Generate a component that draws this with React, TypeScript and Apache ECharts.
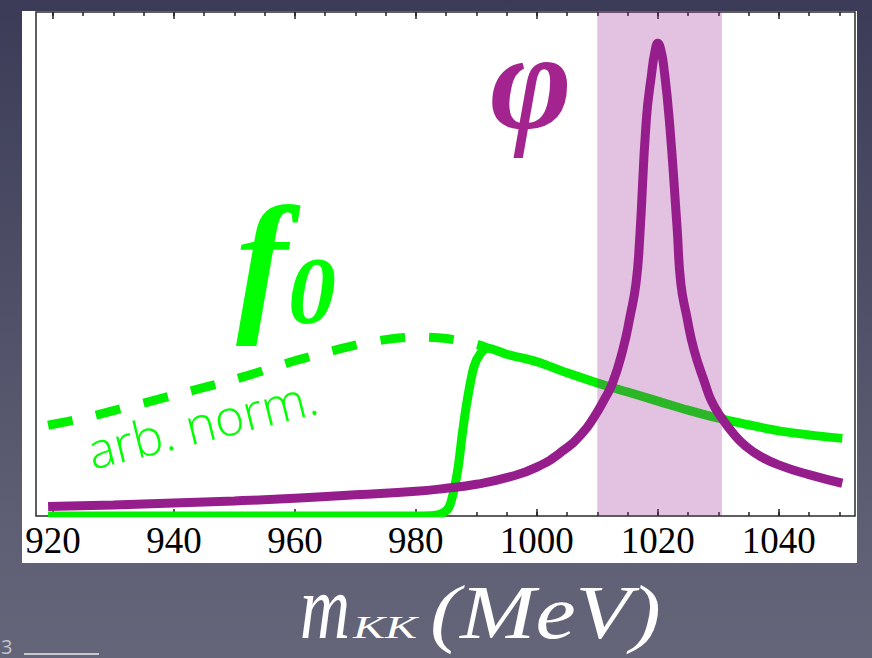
import React, { useEffect, useRef } from "react";
import * as echarts from "echarts";

// ---- data ----
const xRange = [917.2, 1052.6];
const yRange = [0, 100];
const majorTicks = [920, 940, 960, 980, 1000, 1020, 1040];
const minorTicks = [920, 925, 930, 935, 940, 945, 950, 955, 960, 965, 970, 975, 980, 985, 990, 995, 1000, 1005, 1010, 1015, 1020, 1025, 1030, 1035, 1040, 1045, 1050];
const phiBand = [1010, 1030.6];

const phiX = [919.2, 930, 940, 950, 960, 970, 980, 985, 990, 995, 1000, 1004.5, 1007.5, 1009.5, 1011.1, 1012.5, 1014.2, 1015.4, 1016.4, 1017, 1018.1, 1019, 1019.5, 1020, 1020.5, 1021, 1021.9, 1023.2, 1023.8, 1024.8, 1026, 1027.8, 1028.8, 1030.4, 1032.6, 1034.5, 1037, 1040.3, 1045, 1050.5];
const phiY = [1.9, 2.2, 2.6, 3.0, 3.5, 4.2, 4.9, 5.5, 6.3, 7.6, 9.7, 13.1, 16.4, 19.7, 23.0, 26.3, 32.9, 39.5, 46.2, 55.0, 78.6, 88.0, 92.0, 93.8, 92.5, 89.0, 78.6, 57.0, 46.2, 39.5, 32.9, 26.3, 23.0, 19.7, 16.2, 13.9, 11.8, 10.0, 8.2, 6.5];

const f0X = [919.2, 980, 983, 984.5, 985.5, 986.3, 987, 987.7, 988.5, 989.6, 990.7, 991.9, 995, 1000, 1005, 1010, 1015, 1020, 1025, 1030, 1035, 1040, 1045, 1050.5];
const f0Y = [0, 0, 0.1, 0.6, 1.8, 5.2, 9.7, 16.5, 23.0, 29.6, 32.3, 33.3, 32.1, 30.6, 28.4, 26.4, 24.6, 22.8, 21.0, 19.4, 18.1, 16.9, 16.1, 15.4];

const f0DashX = [919.2, 925, 930, 935, 940, 945, 950, 955, 960, 965, 970, 975, 980, 985, 990, 991.9];
const f0DashY = [18.0, 19.4, 20.9, 22.4, 24.0, 25.5, 27.1, 28.9, 30.8, 32.4, 33.9, 35.0, 35.5, 35.2, 34.1, 33.3];

const zip = (xs: number[], ys: number[]) => xs.map((x, i) => [x, ys[i]]);

const GREEN = "#00f000";
const PURPLE = "#961e8c";

export default function App() {
  const ref = useRef<HTMLDivElement>(null);
  useEffect(() => {
    if (!ref.current) return;
    const chart = echarts.init(ref.current, undefined, { renderer: "svg" });
    const serif = "'Liberation Serif', 'Times New Roman', serif";
    const xBase = { type: "value", min: xRange[0], max: xRange[1], gridIndex: 0, axisLine: { show: false }, splitLine: { show: false } };
    const txt = (o: any) => ({ type: "text", z: 10, ...o, style: { ...o.style, textAlign: o.style.align, textVerticalAlign: o.style.verticalAlign } });
    chart.setOption({
      animation: false,
      backgroundColor: "transparent",
      grid: { left: 36, right: 17, top: 12, bottom: 142, show: true, borderColor: "#2a2a2a", borderWidth: 1.5, backgroundColor: "transparent" },
      xAxis: [
        { ...xBase, position: "bottom",
          axisTick: { show: true, inside: true, length: 7, customValues: majorTicks, lineStyle: { color: "#222", width: 1.5 } },
          axisLabel: { show: true, customValues: majorTicks, formatter: (v: number) => String(v), fontFamily: serif, fontSize: 37, color: "#000", margin: 6 } },
        { ...xBase, position: "bottom",
          axisTick: { show: true, inside: true, length: 4, customValues: minorTicks, lineStyle: { color: "#222", width: 1.5 } },
          axisLabel: { show: false } },
        { ...xBase, position: "top",
          axisTick: { show: true, inside: true, length: 7, customValues: majorTicks, lineStyle: { color: "#222", width: 1.5 } },
          axisLabel: { show: false } },
        { ...xBase, position: "top",
          axisTick: { show: true, inside: true, length: 4, customValues: minorTicks, lineStyle: { color: "#222", width: 1.5 } },
          axisLabel: { show: false } },
      ],
      yAxis: { type: "value", min: yRange[0], max: yRange[1], show: false, splitLine: { show: false } },
      series: [
        { type: "line", name: "f0", data: zip(f0X, f0Y), showSymbol: false, smooth: 0.3, z: 2,
          lineStyle: { color: GREEN, width: 9 } },
        { type: "line", name: "f0 dashed", data: zip(f0DashX, f0DashY), showSymbol: false, smooth: 0.3, z: 2,
          lineStyle: { color: GREEN, width: 9, type: [25, 24] } },
        { type: "custom", name: "band", z: 3, data: [phiBand],
          renderItem: (_p: any, api: any) => {
            const a = api.coord([api.value(0), yRange[1]]);
            const b = api.coord([api.value(1), yRange[0]]);
            return { type: "rect", shape: { x: a[0], y: a[1], width: b[0] - a[0], height: b[1] - a[1] }, style: { fill: "rgba(153,31,143,0.28)" } };
          } },
        { type: "line", name: "phi", data: zip(phiX, phiY), showSymbol: false, smooth: 0.5, z: 4,
          lineStyle: { color: PURPLE, width: 9 } },
      ],
      graphic: [
        { type: "rect", z: -10, shape: { x: 22, y: 11, width: 835, height: 552 }, style: { fill: "#ffffff" } },
        { type: "rect", z: 100, shape: { x: 37, y: 517.2, width: 817, height: 9 }, style: { fill: "#ffffff" } },
        txt({ x: 531, y: 80, style: { text: "φ", fontFamily: serif, fontSize: 140, fontWeight: "bold", fontStyle: "italic", fill: "#a3238f", align: "center", verticalAlign: "middle" } }),
        txt({ x: 236, y: 260.7, style: { text: "f", fontFamily: serif, fontSize: 155, fontWeight: "bold", fontStyle: "italic", fill: "#00ff00", align: "left", verticalAlign: "middle" } }),
        txt({ x: 288, y: 290.6, style: { text: "0", fontFamily: serif, fontSize: 96, fontWeight: "bold", fontStyle: "italic", fill: "#00ff00", align: "left", verticalAlign: "middle" } }),
        txt({ x: 202, y: 423, rotation: 0.244, style: { text: "arb. norm.", fontFamily: "'Open Sans', sans-serif", fontSize: 50, fontWeight: 300, fill: "#00ff00", align: "center", verticalAlign: "middle" } }),
        txt({ x: 300, y: 607.6, scaleX: 0.77, style: { text: "m", fontFamily: serif, fontSize: 90, fontStyle: "italic", fill: "#ffffff", align: "left", verticalAlign: "middle" } }),
        txt({ x: 353, y: 627.2, scaleX: 1.5, style: { text: "KK", fontFamily: serif, fontSize: 32, fontStyle: "italic", fill: "#ffffff", align: "left", verticalAlign: "middle" } }),
        txt({ x: 430, y: 612.4, scaleX: 1.19, style: { text: "(MeV)", fontFamily: serif, fontSize: 76, fontStyle: "italic", fill: "#ffffff", align: "left", verticalAlign: "middle" } }),
        txt({ x: 1, y: 646, style: { text: "3", fontFamily: "'Open Sans', sans-serif", fontSize: 20, fill: "#c4c4cc", align: "left", verticalAlign: "middle" } }),
        { type: "line", z: 10, shape: { x1: 24, y1: 654, x2: 99, y2: 654 }, style: { stroke: "#c8c8cc", lineWidth: 2 } },
      ],
    });
    return () => chart.dispose();
  }, []);
  return (
    <div
      ref={ref}
      style={{
        position: "fixed", left: 0, top: 0, width: 872, height: 658,
        background: "linear-gradient(to bottom, #3b3b57 0%, #4f5067 45%, #5e5f74 80%, #646579 100%)",
      }}
    />
  );
}
